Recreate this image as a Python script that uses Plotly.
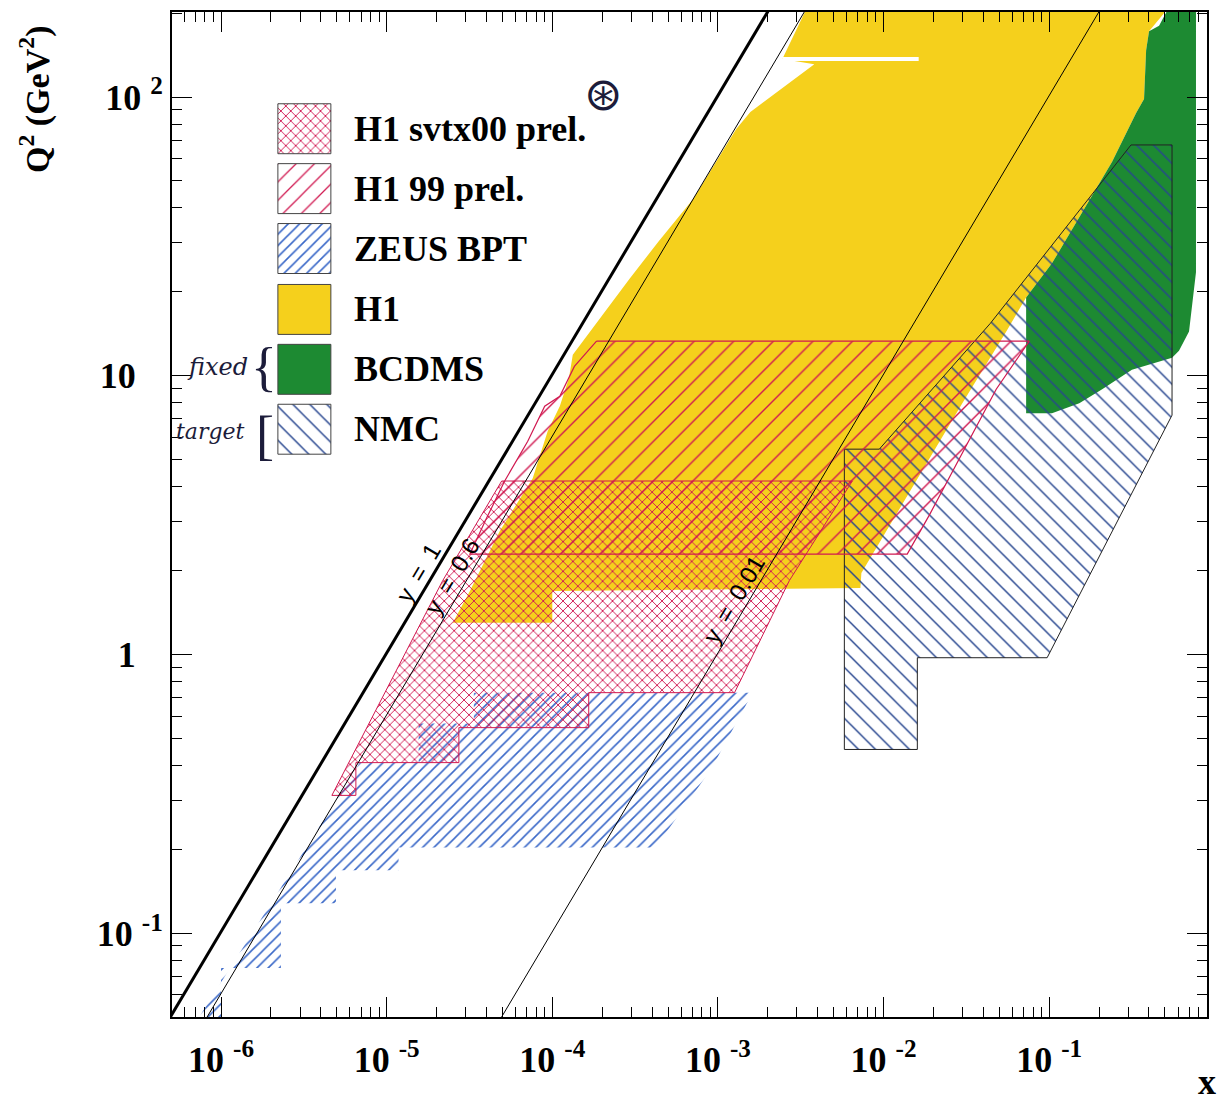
import numpy as np
import plotly.graph_objects as go

# ---------------- data: kinematic coverage in (x, Q^2) ----------------
# H1 (solid yellow)
h1_x = [2.51e-5, 1.0e-4, 1.0e-4, 7.25e-3, 7.35e-3, 1.64e-2, 2.99e-2, 5.51e-2, 7.26e-2, 0.104,
        0.167, 0.240, 0.335, 0.374, 0.385, 0.401, 0.529, 3.46e-3, 2.45e-3, 3.82e-3,
        1.57e-3, 1.29e-3, 7.13e-4, 4.38e-4, 2.93e-4, 1.88e-4, 1.33e-4, 1.26e-4, 1.11e-4,
        9.38e-5, 7.62e-5, 4.82e-5, 3.18e-5]
h1_q2 = [1.30, 1.30, 1.69, 1.73, 1.96, 4.36, 7.96, 14.4, 19.1, 25.3,
         40.7, 58.6, 87.7, 98.4, 147, 172, 210, 210, 137, 131,
         88.4, 76.8, 43.2, 30.3, 22.3, 15.7, 11.9, 9.79, 7.77,
         6.32, 4.29, 2.77, 1.69]
# gap between H1 bins near the top
h1_gap_x = [2.45e-3, 1.63e-2]
h1_gap_q2 = [137, 137]

# BCDMS (solid green)
bcdms_x = [7.26e-2, 7.26e-2, 0.104, 0.167, 0.240, 0.335, 0.374, 0.385, 0.401, 0.461,
           0.529, 0.770, 0.770, 0.699, 0.608, 0.552, 0.316, 0.209, 0.152, 0.104]
bcdms_q2 = [7.33, 19.1, 25.3, 40.7, 58.6, 87.7, 98.4, 147, 172, 180,
            210, 210, 23.5, 14.4, 12.3, 11.6, 10.5, 8.94, 7.96, 7.33]

# NMC (blue back-hatch)
nmc_x = [5.80e-3, 9.43e-3, 4.41e-2, 0.312, 0.552, 0.552, 9.72e-2, 1.60e-2, 1.60e-2, 5.80e-3, 5.80e-3]
nmc_q2 = [5.45, 5.45, 15.4, 67.3, 67.3, 7.22, 0.973, 0.973, 0.456, 0.456, 5.45]

# ZEUS BPT (blue hatch)
zeus_x = [6.89e-6, 6.6e-7, 1.0e-6, 1.0e-6, 2.30e-6, 2.30e-6, 4.94e-6, 4.94e-6, 1.18e-5, 1.18e-5,
          4.20e-4, 9.15e-4, 1.62e-3, 3.36e-5, 3.36e-5, 1.56e-5, 1.56e-5]
zeus_q2 = [0.409, 0.045, 0.045, 0.0749, 0.0749, 0.128, 0.128, 0.168, 0.168, 0.203,
           0.203, 0.390, 0.729, 0.729, 0.565, 0.565, 0.409]

# H1 99 prel. (red hatch)
h199_x = [1.85e-4, 7.58e-2, 4.79e-2, 1.89e-2, 1.39e-2, 3.18e-5, 4.02e-5, 5.16e-5, 7.11e-5,
          9.0e-5, 1.11e-4, 1.36e-4, 1.85e-4]
h199_q2 = [13.3, 13.3, 8.94, 3.16, 2.29, 2.29, 3.09, 4.19, 5.82,
           7.77, 8.44, 10.8, 13.3]

# H1 svtx00 prel. (red cross-hatch)
svtx_x = [4.95e-5, 6.48e-3, 2.70e-3, 1.26e-3, 1.66e-4, 1.66e-4, 2.73e-5, 2.73e-5, 6.52e-6,
          6.52e-6, 4.67e-6, 2.18e-5, 4.95e-5]
svtx_q2 = [4.19, 4.19, 1.84, 0.729, 0.729, 0.546, 0.546, 0.409, 0.409,
           0.312, 0.312, 1.84, 4.19]

# lines of constant inelasticity y
y1_x, y1_q2 = [4.4e-7, 2.2e-3], [0.0445, 222.6]
y06_x, y06_q2 = [7.4e-7, 3.7e-3], [0.0449, 224.7]
y001_x, y001_q2 = [4.4e-5, 0.22], [0.0445, 222.6]
yline_labels = ["y\u2002=\u20021", "y\u2002=\u20020.6", "y\u2002=\u20020.01"]
yline_label_x = [1.56e-5, 2.47e-5, 1.24e-3]
yline_label_q2 = [1.96, 1.91, 1.58]

# axis ticks
x_tickvals = [1e-6, 1e-5, 1e-4, 1e-3, 1e-2, 1e-1]
x_ticktext = ["10 <sup>-6</sup>", "10 <sup>-5</sup>", "10 <sup>-4</sup>",
              "10 <sup>-3</sup>", "10 <sup>-2</sup>", "10 <sup>-1</sup>"]
y_tickvals = [0.1, 1, 10, 100]
y_ticktext = ["10 <sup>-1</sup>", "1\u00a0\u00a0\u00a0", "10\u00a0\u00a0\u00a0", "10 <sup>2</sup>"]

legend_labels = ["H1 svtx00 prel.", "H1 99 prel.", "ZEUS BPT", "H1", "BCDMS", "NMC"]

# ---------------- styling ----------------
YELLOW = "#f5d01c"
GREEN = "#1d8a32"
RED = "#d01850"
BLUE = "#3a68c8"
NAVY = "#27468f"
CLEAR = "rgba(0,0,0,0)"
PINK_TINT = "rgba(215,30,85,0.10)"
SERIF = "Liberation Serif"
INK = "#1c1c3a"

X_RANGE = [-6.296, -0.047]
Y_RANGE = [-1.301, 2.305]

fig = go.Figure()


def region(xs, ys, name, fillcolor=CLEAR, pattern=None, line_color=CLEAR, line_width=0):
    kw = dict(x=xs, y=ys, mode="lines", fill="toself", name=name, showlegend=False,
              hoverinfo="skip", fillcolor=fillcolor,
              line=dict(color=line_color, width=line_width))
    if pattern is not None:
        kw["fillpattern"] = pattern
    fig.add_trace(go.Scatter(**kw))


def hatch(shape, color, size, solidity):
    return dict(shape=shape, fgcolor=color, fgopacity=1, bgcolor=CLEAR, size=size,
                solidity=solidity, fillmode="overlay")


SVTX_HATCH = hatch("x", RED, 7, 0.25)
H199_HATCH = hatch("/", RED, 14, 0.1)
ZEUS_HATCH = hatch("/", BLUE, 8, 0.2)
NMC_HATCH = hatch("\\", NAVY, 12, 0.12)

region(h1_x, h1_q2, "H1", fillcolor=YELLOW)
fig.add_trace(go.Scatter(x=h1_gap_x, y=h1_gap_q2, mode="lines", showlegend=False,
                         hoverinfo="skip", line=dict(color="white", width=4)))
region(bcdms_x, bcdms_q2, "BCDMS", fillcolor=GREEN)
region(nmc_x, nmc_q2, "NMC", pattern=NMC_HATCH, line_color="#222222", line_width=1)
region(zeus_x, zeus_q2, "ZEUS BPT", pattern=ZEUS_HATCH)
region(h199_x, h199_q2, "H1 99 prel.", pattern=H199_HATCH, line_color=RED, line_width=1.2)
region(svtx_x, svtx_q2, "H1 svtx00 prel.", fillcolor=PINK_TINT, pattern=SVTX_HATCH,
       line_color=RED, line_width=1)

fig.add_trace(go.Scatter(x=y1_x, y=y1_q2, mode="lines", showlegend=False, hoverinfo="skip",
                         line=dict(color="black", width=3)))
fig.add_trace(go.Scatter(x=y06_x, y=y06_q2, mode="lines", showlegend=False, hoverinfo="skip",
                         line=dict(color="black", width=1)))
fig.add_trace(go.Scatter(x=y001_x, y=y001_q2, mode="lines", showlegend=False, hoverinfo="skip",
                         line=dict(color="black", width=1)))

for txt, lx, lq in zip(yline_labels, yline_label_x, yline_label_q2):
    fig.add_annotation(x=np.log10(lx), y=np.log10(lq), xref="x", yref="y", text=txt,
                       showarrow=False, textangle=-59.3, xanchor="center", yanchor="middle",
                       font=dict(family="Liberation Sans", size=24, color="black"))

# ---------------- hand-made legend (overlay axes in plot fractions) ----------------
sw_x0, sw_x1 = 0.1023, 0.1535
sw_tops = [0.9087, 0.8491, 0.7895, 0.7289, 0.6693, 0.6097]
sw_h = 0.0497
sw_styles = [
    dict(fillcolor=PINK_TINT, pattern=SVTX_HATCH),
    dict(pattern=hatch("/", RED, 13, 0.1)),
    dict(pattern=ZEUS_HATCH),
    dict(fillcolor=YELLOW),
    dict(fillcolor=GREEN),
    dict(pattern=NMC_HATCH),
]
for top, st, lab in zip(sw_tops, sw_styles, legend_labels):
    bot = top - sw_h
    kw = dict(x=[sw_x0, sw_x1, sw_x1, sw_x0, sw_x0], y=[bot, bot, top, top, bot],
              mode="lines", fill="toself", showlegend=False, hoverinfo="skip",
              xaxis="x2", yaxis="y2", fillcolor=st.get("fillcolor", CLEAR),
              line=dict(color="#444444", width=1))
    if "pattern" in st:
        kw["fillpattern"] = st["pattern"]
    fig.add_trace(go.Scatter(**kw))
    fig.add_annotation(x=0.1737, y=top - sw_h / 2, xref="paper", yref="paper", text=lab,
                       showarrow=False, xanchor="left", yanchor="middle",
                       font=dict(family=SERIF, size=36, color="black", weight="bold"))

# hand-written notes beside the fixed-target entries
fig.add_annotation(x=0.0435, y=0.6465, xref="paper", yref="paper", text="fixed",
                   showarrow=False, xanchor="center", yanchor="middle",
                   font=dict(family="DejaVu Serif", size=24, color=INK, style="italic"))
fig.add_annotation(x=0.0370, y=0.5829, xref="paper", yref="paper", text="target",
                   showarrow=False, xanchor="center", yanchor="middle",
                   font=dict(family="DejaVu Serif", size=22, color=INK, style="italic"))
fig.add_annotation(x=0.0887, y=0.647, xref="paper", yref="paper", text="{",
                   showarrow=False, xanchor="center", yanchor="middle",
                   font=dict(family=SERIF, size=54, color=INK))
fig.add_annotation(x=0.0897, y=0.578, xref="paper", yref="paper", text="[",
                   showarrow=False, xanchor="center", yanchor="middle",
                   font=dict(family=SERIF, size=54, color=INK))
fig.add_annotation(x=0.417, y=0.9186, xref="paper", yref="paper", text="\u229b",
                   showarrow=False, xanchor="center", yanchor="middle",
                   font=dict(family="DejaVu Sans", size=46, color=INK))

# axis titles
fig.add_annotation(x=-0.1322, y=0.9136, xref="paper", yref="paper",
                   text="Q<sup>2</sup> (GeV<sup>2</sup>)", textangle=-90, showarrow=False,
                   xanchor="center", yanchor="middle",
                   font=dict(family=SERIF, size=34, color="black", weight="bold"))
fig.add_annotation(x=1.0, y=-0.0645, xref="paper", yref="paper", text="x",
                   showarrow=False, xanchor="center", yanchor="middle",
                   font=dict(family=SERIF, size=36, color="black", weight="bold"))

x_minor = [m * 10.0 ** k for k in range(-7, 1) for m in range(2, 10)]
y_minor = [m * 10.0 ** k for k in range(-2, 3) for m in range(2, 10)]

axis_common = dict(showgrid=False, zeroline=False, showline=True, linecolor="black",
                   linewidth=2, mirror="allticks", ticks="inside", ticklen=20,
                   tickwidth=1.2, tickcolor="black",
                   tickfont=dict(family=SERIF, size=36, color="black", weight="bold"))

fig.update_layout(
    width=1219, height=1114,
    margin=dict(l=172, r=11, t=10, b=97),
    paper_bgcolor="white", plot_bgcolor="white",
    xaxis=dict(type="log", range=X_RANGE, tickmode="array", tickvals=x_tickvals,
               ticktext=x_ticktext, ticklabelstandoff=10,
               minor=dict(tickmode="array", tickvals=x_minor, ticks="inside", ticklen=10,
                          tickcolor="black", tickwidth=1),
               **axis_common),
    yaxis=dict(type="log", range=Y_RANGE, tickmode="array", tickvals=y_tickvals,
               ticktext=y_ticktext,
               minor=dict(tickmode="array", tickvals=y_minor, ticks="inside", ticklen=10,
                          tickcolor="black", tickwidth=1),
               **axis_common),
    xaxis2=dict(overlaying="x", range=[0, 1], visible=False, fixedrange=True),
    yaxis2=dict(overlaying="y", range=[0, 1], visible=False, fixedrange=True),
)

fig.write_html("out.html")
